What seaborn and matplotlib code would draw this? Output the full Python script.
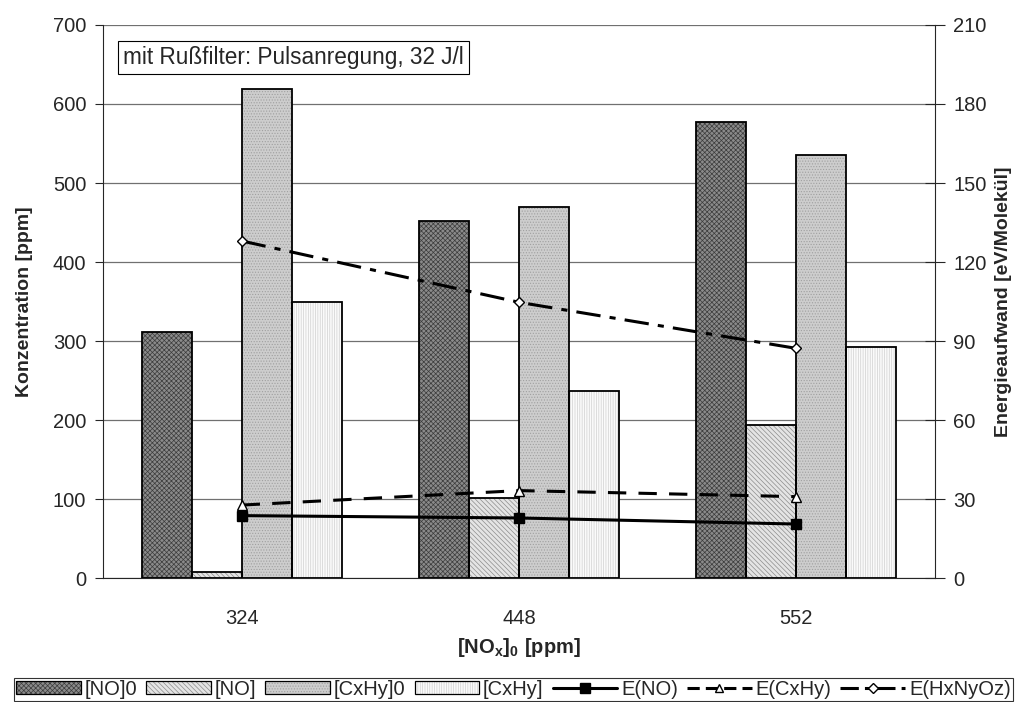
import numpy as np
import pandas as pd
import matplotlib
matplotlib.use("Agg")
import matplotlib.pyplot as plt
import seaborn as sns
from matplotlib.patches import Patch
from matplotlib.lines import Line2D
from matplotlib.legend_handler import HandlerTuple

# data
nox0 = ["324", "448", "552"]
no0 = [312, 452, 577]
no = [8, 101, 194]
cxhy0 = [619, 469, 535]
cxhy = [349, 237, 292]
e_no = [23.7, 22.8, 20.5]
e_cxhy = [27.7, 33.2, 30.9]
e_hxnyoz = [128, 104.7, 87.2]

series = ["[NO]0", "[NO]", "[CxHy]0", "[CxHy]"]

sns.set_style("white")
plt.rcParams['font.family'] = ['Liberation Sans', 'DejaVu Sans']
plt.rcParams['mathtext.fontset'] = 'custom'
plt.rcParams['mathtext.bf'] = 'Liberation Sans:bold'
plt.rcParams['mathtext.rm'] = 'Liberation Sans'
plt.rcParams['hatch.linewidth'] = 0.5

FS = 14.5

df = pd.DataFrame({
    "NOx0": nox0 * 4,
    "series": np.repeat(series, 3),
    "value": no0 + no + cxhy0 + cxhy,
})

fig = plt.figure(figsize=(10.27, 7.02), dpi=100)
ax = fig.add_axes([0.1003, 0.1766, 0.8101, 0.7878])

# face colour, hatch, hatch colour
styles = {
    "[NO]0": ("#8a8a8a", "xxxxxxx", "#3c3c3c"),
    "[NO]": ("#e4e4e4", "\\\\\\\\\\\\\\", "#8c8c8c"),
    "[CxHy]0": ("#cdcdcd", "......", "#a0a0a0"),
    "[CxHy]": ("#fafafa", "|||||||", "#d0d0d0"),
}

sns.barplot(data=df, x="NOx0", y="value", hue="series", hue_order=series,
            order=nox0, width=0.72, ax=ax, legend=False, zorder=2)

# restyle bars: hatch layer + black outline
for i, s in enumerate(series):
    fc, hatch, hc = styles[s]
    for p in ax.containers[i]:
        p.set_facecolor(fc)
        p.set_hatch(hatch)
        p.set_edgecolor(hc)
        p.set_linewidth(0)
        x, w, h = p.get_x(), p.get_width(), p.get_height()
        ax.add_patch(plt.Rectangle((x, 0), w, h, fill=False, edgecolor="black",
                                   linewidth=1.3, zorder=3))

ax.set_ylim(0, 700)
ax.set_xlim(-0.5, 2.5)
ax.set_yticks(range(0, 701, 100))
ax.yaxis.grid(True, color="#707070", linewidth=0.9)
ax.set_axisbelow(True)
ax.set_xticks([-0.5, 0.5, 1.5, 2.5], minor=True)
ax.tick_params(axis="x", which="major", length=0, pad=22, labelsize=FS)
ax.tick_params(axis="x", which="minor", length=12, direction="inout", width=0.8)
ax.tick_params(axis="y", length=6, direction="out", width=0.8, labelsize=FS, left=True, pad=6)
for sp in ["top", "right"]:
    ax.spines[sp].set_visible(False)
ax.spines["left"].set_linewidth(0.8)
ax.spines["bottom"].set_linewidth(0.8)
ax.set_xlabel(r"$\mathbf{[NO_x]_0\ [ppm]}$", fontsize=FS, labelpad=6)
ax.set_ylabel("Konzentration [ppm]", fontsize=FS - 0.5, fontweight="bold", labelpad=14)

ax2 = ax.twinx()
ax2.set_ylim(0, 210)
ax2.set_yticks(range(0, 211, 30))
ax2.tick_params(axis="y", length=14, direction="inout", width=0.8, labelsize=FS, right=True, pad=6)
for sp in ["top", "left", "bottom"]:
    ax2.spines[sp].set_visible(False)
ax2.spines["right"].set_linewidth(0.8)
ax2.set_ylabel("Energieaufwand [eV/Molekül]", fontsize=FS - 0.5, fontweight="bold", labelpad=6)

xs = [0, 1, 2]
dash = (0, (6, 4))
dashdot = (0, (8, 3, 2, 3))
ax2.plot(xs, e_no, color="black", lw=2.2, marker="s", ms=6.5, zorder=5)
ax2.plot(xs, e_cxhy, color="black", lw=2.2, ls=dash, marker="^", ms=6.5,
         mfc="white", mec="black", mew=1, zorder=5)
ax2.plot(xs, e_hxnyoz, color="black", lw=2.2, ls=dashdot, marker="D", ms=5,
         mfc="white", mec="black", mew=1, zorder=5)

ax.text(0.024, 0.962, "mit Rußfilter: Pulsanregung, 32 J/l", transform=ax.transAxes,
        fontsize=16.3, va="top", ha="left",
        bbox=dict(boxstyle="square,pad=0.22", facecolor="white", edgecolor="black", lw=0.8),
        zorder=6)

handles = []
for s in series:
    fc, hatch, hc = styles[s]
    h1 = Patch(facecolor=fc, hatch=hatch, edgecolor=hc, linewidth=0)
    h2 = Patch(facecolor="none", edgecolor="black", linewidth=0.9)
    handles.append((h1, h2))
handles.append(Line2D([], [], color="black", lw=2.2, marker="s", ms=6.5))
handles.append(Line2D([], [], color="black", lw=2.2, ls=(0, (4, 2)), marker="^", ms=6,
                      mfc="white", mec="black"))
handles.append(Line2D([], [], color="black", lw=2.2, ls=(0, (6, 2, 2, 2)), marker="D", ms=5,
                      mfc="white", mec="black"))
labels = series + ["E(NO)", "E(CxHy)", "E(HxNyOz)"]
leg = fig.legend(handles=handles, labels=labels, loc="lower center",
                 bbox_to_anchor=(0.5, 0.0), ncol=7,
                 handler_map={tuple: HandlerTuple(ndivide=1, pad=0)},
                 fontsize=FS, frameon=True, fancybox=False, edgecolor="black",
                 handlelength=3.2, handleheight=0.6, handletextpad=0.2, columnspacing=0.45,
                 borderpad=0.1, borderaxespad=0.05)
leg.get_frame().set_linewidth(0.8)

fig.savefig("out.png", dpi=100)
